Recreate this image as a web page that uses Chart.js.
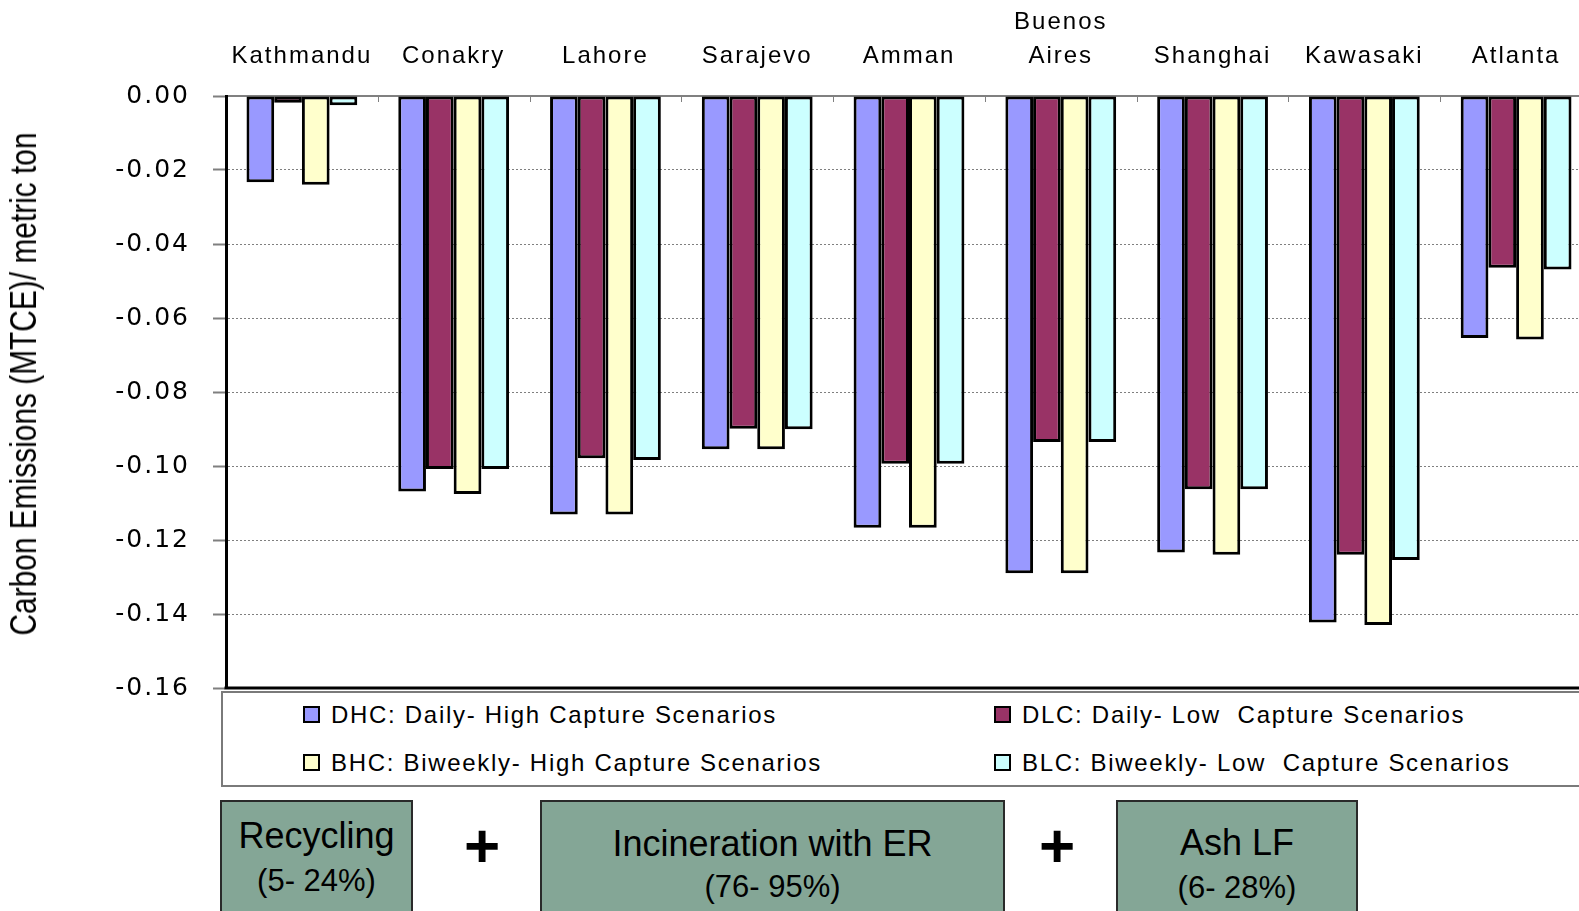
<!DOCTYPE html>
<html>
<head>
<meta charset="utf-8">
<script src="https://cdn.jsdelivr.net/npm/chart.js@4/dist/chart.umd.min.js"></script>
<style>
  html, body { margin: 0; padding: 0; background: #fff; overflow: hidden; width: 1579px; height: 911px; }
  #wrap { position: relative; width: 1579px; height: 911px; overflow: hidden; font-family: "Liberation Sans", Arial, sans-serif; }
  #chart { position: absolute; left: 0; top: 0; }
  #ytitle {
    position: absolute; left: 24px; top: 384px; white-space: nowrap;
    font-size: 36px; color: #000;
    transform: translate(-50%, -50%) rotate(-90deg) scaleX(0.83);
  }
  #legend {
    position: absolute; left: 221px; top: 691px; width: 1400px; height: 96px;
    border: 2px solid #7a7a7a; box-sizing: border-box; background: #fff;
  }
  .item { position: absolute; font-size: 24px; letter-spacing: 1.7px; white-space: pre; line-height: 28px; }
  .item .sw { position: absolute; left: 0; top: 5px; width: 13px; height: 13px; border: 2px solid #000; }
  .item .tx { position: absolute; left: 28px; top: 0; }
  .box {
    position: absolute; top: 800px; height: 130px; background: #84A696;
    border: 2px solid #2a2a2a; box-sizing: border-box; text-align: center; color: #000;
  }
  .box .l1 { position: absolute; left: 0; right: 0; font-size: 36px; }
  .box .l2 { position: absolute; left: 0; right: 0; font-size: 31px; }
  .plus { position: absolute; font-size: 62px; font-weight: bold; line-height: 62px; width: 60px; text-align: center; }
</style>
</head>
<body>
<div id="wrap">
  <canvas id="chart" width="1600" height="726"></canvas>
  <div id="ytitle">Carbon Emissions (MTCE)/ metric ton</div>
  <div id="legend"></div>
  <div class="box" style="left:220px; width:193px;">
    <div class="l1" style="top:13px;">Recycling</div>
    <div class="l2" style="top:61px;">(5- 24%)</div>
  </div>
  <div class="plus" style="left:452px; top:815px;">+</div>
  <div class="box" style="left:540px; width:465px;">
    <div class="l1" style="top:21px;">Incineration with ER</div>
    <div class="l2" style="top:67px;">(76- 95%)</div>
  </div>
  <div class="plus" style="left:1027px; top:815px;">+</div>
  <div class="box" style="left:1116px; width:242px;">
    <div class="l1" style="top:20px;">Ash LF</div>
    <div class="l2" style="top:68px;">(6- 28%)</div>
  </div>
</div>
<script>
// Cities along the top axis
const cities = ['Kathmandu', 'Conakry', 'Lahore', 'Sarajevo', 'Amman', ['Buenos', 'Aires'], 'Shanghai', 'Kawasaki', 'Atlanta'];

// Net carbon emissions per scenario (MTCE per metric ton)
const dhc = [-0.0233, -0.1069, -0.1131, -0.0955, -0.1167, -0.1290, -0.1234, -0.1423, -0.0654];
const dlc = [-0.0018, -0.1008, -0.0979, -0.0899, -0.0994, -0.0935, -0.1063, -0.1240, -0.0464];
const bhc = [-0.0240, -0.1076, -0.1131, -0.0955, -0.1167, -0.1290, -0.1240, -0.1430, -0.0658];
const blc = [-0.0025, -0.1008, -0.0984, -0.0901, -0.0994, -0.0935, -0.1063, -0.1254, -0.0469];

const seriesNames = [
  'DHC: Daily- High Capture Scenarios',
  'DLC: Daily- Low  Capture Scenarios',
  'BHC: Biweekly- High Capture Scenarios',
  'BLC: Biweekly- Low  Capture Scenarios'
];
const seriesColors = ['#9999FF', '#993366', '#FFFFCC', '#CCFFFF'];

// Y axis range and tick step
const yMin = -0.16, yMax = 0, yStep = 0.02;

// Wider character spacing for all canvas text
const spacing = {
  id: 'spacing',
  beforeLayout(chart) { chart.ctx.letterSpacing = '2px'; },
  beforeDraw(chart) { chart.ctx.letterSpacing = '2px'; }
};

// Bottom frame line and short inward ticks between city groups
const frame = {
  id: 'frame',
  afterDraw(chart) {
    const { ctx, chartArea: a, scales: { x } } = chart;
    ctx.save();
    ctx.strokeStyle = '#000';
    ctx.lineWidth = 3;
    ctx.beginPath();
    ctx.moveTo(a.left - 1.5, a.bottom);
    ctx.lineTo(a.right, a.bottom);
    ctx.stroke();
    ctx.strokeStyle = '#808080';
    ctx.lineWidth = 1;
    for (let i = 0; i < cities.length - 1; i++) {
      const bx = Math.round((x.getPixelForValue(i) + x.getPixelForValue(i + 1)) / 2) + 0.5;
      ctx.beginPath();
      ctx.moveTo(bx, a.top);
      ctx.lineTo(bx, a.top + 6);
      ctx.stroke();
    }
    ctx.restore();
  }
};

const datasets = [dhc, dlc, bhc, blc].map((vals, i) => ({
  label: seriesNames[i],
  data: vals,
  backgroundColor: seriesColors[i],
  borderColor: '#000',
  borderWidth: 3,
  borderSkipped: false
}));

const chart = new Chart(document.getElementById('chart'), {
  type: 'bar',
  data: { labels: cities, datasets },
  plugins: [spacing, frame],
  options: {
    responsive: false,
    animation: false,
    devicePixelRatio: 1,
    categoryPercentage: 0.73,
    barPercentage: 1.0,
    layout: { padding: { left: 0, top: 0, right: 8, bottom: 13 } },
    plugins: { legend: { display: false }, tooltip: { enabled: false } },
    scales: {
      x: {
        position: 'top',
        grid: { display: false, drawTicks: false },
        border: { display: true, color: '#808080', width: 2 },
        ticks: {
          color: '#000',
          padding: 23,
          maxRotation: 0,
          autoSkip: false,
          font: { family: 'Liberation Sans', size: 24, lineHeight: 1.42 }
        },
        afterFit(scale) { scale.height = 96; }
      },
      y: {
        min: yMin,
        max: yMax,
        grid: {
          color: '#7f7f7f',
          lineWidth: 1,
          tickLength: 13,
          tickColor: '#7f7f7f',
          tickWidth: 2
        },
        border: { display: true, color: '#000', width: 3, dash: [2, 2] },
        ticks: {
          stepSize: yStep,
          color: '#000',
          padding: 23,
          font: { family: 'DejaVu Sans', size: 25 },
          callback: (v) => Number(v).toFixed(2)
        },
        afterFit(scale) { scale.width = 226; }
      }
    }
  }
});

// Two-column legend built from the chart's datasets
const legend = document.getElementById('legend');
const cols = [80, 771];
const rows = [8, 56];
chart.data.datasets.forEach((ds, i) => {
  const item = document.createElement('div');
  item.className = 'item';
  item.style.left = cols[i % 2] + 'px';
  item.style.top = rows[Math.floor(i / 2)] + 'px';
  const sw = document.createElement('span');
  sw.className = 'sw';
  sw.style.background = ds.backgroundColor;
  const tx = document.createElement('span');
  tx.className = 'tx';
  tx.textContent = ds.label;
  item.appendChild(sw);
  item.appendChild(tx);
  legend.appendChild(item);
});
</script>
</body>
</html>
